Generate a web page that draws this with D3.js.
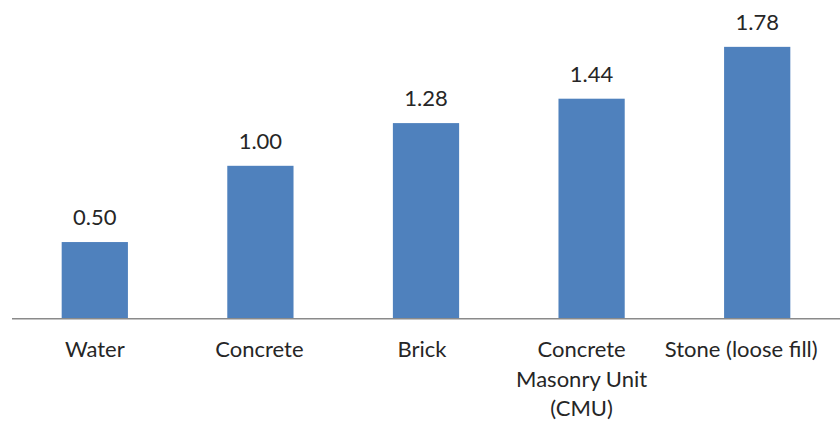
<!DOCTYPE html>
<html>
<head>
<meta charset="utf-8">
<script src="https://cdn.jsdelivr.net/npm/d3@7/dist/d3.min.js"></script>
<style>
  html, body { margin: 0; padding: 0; background: #fff; }
  svg { display: block; }
  text { font-family: Lato, "Open Sans", sans-serif; fill: #262626; }
</style>
</head>
<body>
<svg id="chart" width="840" height="421"></svg>
<script>
// Relative heat-storage capacity by material
const categories = ["Water", "Concrete", "Brick", "Concrete Masonry Unit (CMU)", "Stone (loose fill)"];
const values = [0.50, 1.00, 1.28, 1.44, 1.78];
const yDomain = [0, 2];

const svg = d3.select("#chart");
const plot = { left: 12, right: 840, top: 13.3, bottom: 318.3 };
const fontSize = 22;
// category labels drift left toward the right edge of the plot
const labelShift = [0, -1, -4, -10, -16];

const x = d3.scaleBand()
  .domain(categories)
  .range([plot.left, plot.right])
  .paddingInner(0.6)
  .paddingOuter(0.3);

const y = d3.scaleLinear()
  .domain(yDomain)
  .range([plot.bottom, plot.top]);

// bars
svg.append("g").selectAll("rect")
  .data(values)
  .join("rect")
  .attr("x", (d, i) => x(categories[i]))
  .attr("y", d => y(d))
  .attr("width", x.bandwidth())
  .attr("height", d => y(0) - y(d))
  .attr("fill", "#4F81BD");

// value labels
svg.append("g").selectAll("text")
  .data(values)
  .join("text")
  .attr("x", (d, i) => x(categories[i]) + x.bandwidth() / 2)
  .attr("y", d => y(d) - 17)
  .attr("text-anchor", "middle")
  .style("font-size", fontSize + "px")
  .text(d => d3.format(".2f")(d));

// category axis
const xAxis = d3.axisBottom(x).tickSize(0).tickPadding(0);
const gx = svg.append("g")
  .attr("transform", `translate(0,${y(0)})`)
  .call(xAxis);
gx.attr("font-family", null).attr("font-size", null);
gx.select(".domain")
  .attr("d", `M${plot.left},0.5H${plot.right}`)
  .attr("stroke", "#8a8a8a")
  .attr("stroke-width", 1.5);
gx.selectAll(".tick text")
  .attr("y", 39)
  .attr("dy", 0)
  .style("font-size", fontSize + "px")
  .attr("fill", "#262626")
  .call(wrap, x.step() - 4);
gx.selectAll(".tick text tspan")
  .attr("x", function() {
    const i = categories.indexOf(d3.select(this.parentNode).datum());
    return labelShift[i];
  });

function wrap(sel, width) {
  sel.each(function() {
    const t = d3.select(this);
    const words = t.text().split(/\s+/);
    const yPos = t.attr("y");
    t.text(null);
    let line = [];
    let lineNo = 0;
    let tspan = t.append("tspan").attr("x", 0).attr("y", yPos);
    for (const w of words) {
      line.push(w);
      tspan.text(line.join(" "));
      if (tspan.node().getComputedTextLength() > width && line.length > 1) {
        line.pop();
        tspan.text(line.join(" "));
        line = [w];
        lineNo++;
        tspan = t.append("tspan").attr("x", 0).attr("y", +yPos + lineNo * 29.5).text(w);
      }
    }
  });
}
</script>
</body>
</html>
